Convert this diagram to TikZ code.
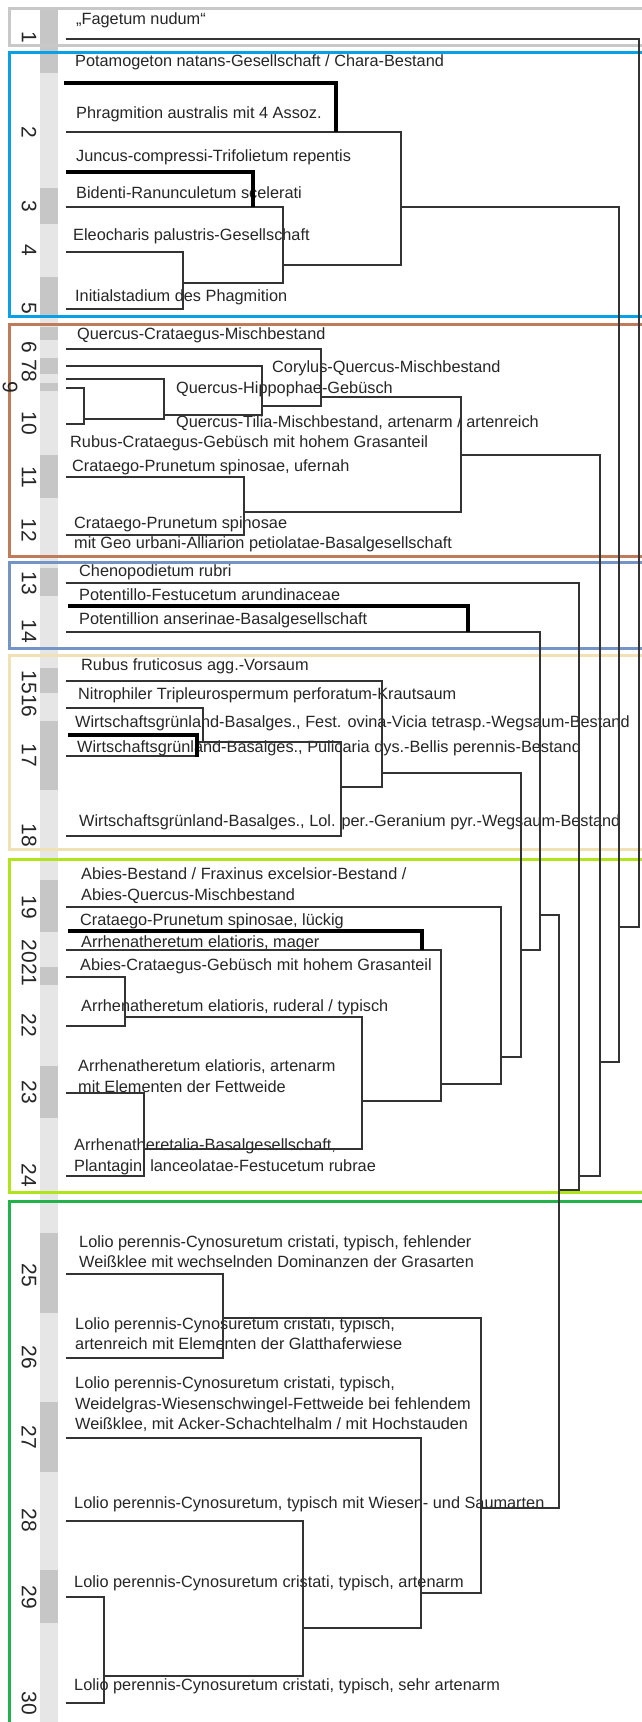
\documentclass[tikz,border=0pt]{standalone}
\usepackage{fontspec}
\setmainfont{Liberation Sans}
\newfontfamily\lblfont{Liberation Sans}
\definecolor{grpgray}{HTML}{C8C8C8}
\definecolor{grpblue}{HTML}{0AA0E6}
\definecolor{grpbrown}{HTML}{C07C58}
\definecolor{grpsteel}{HTML}{7494C6}
\definecolor{grpbeige}{HTML}{F0E2B4}
\definecolor{grplime}{HTML}{B2E41E}
\definecolor{grpgreen}{HTML}{22B24A}
\definecolor{bandlight}{HTML}{E6E6E6}
\definecolor{banddark}{HTML}{C6C6C6}
\tikzset{
  link/.style={draw=black!80, line width=1.3pt},
  boldlink/.style={draw=black, line width=3.6pt},
  lbl/.style={anchor=base west, inner sep=0pt, yshift=-5.5pt, text=black!85,
    font=\lblfont\fontsize{16.3}{18}\selectfont},
  num/.style={rotate=-90, inner sep=0pt, text=black!85, font=\fontsize{21}{22}\selectfont},
  grpbox/.style={line width=3pt},
}
\begin{document}
\begin{tikzpicture}[x=1pt, y=-1pt]
  \useasboundingbox[fill=white] (0,0) rectangle (642,1722);
  % relevee strip
  \fill[bandlight] (40,10) rectangle (58,1722);
  \foreach \ya/\yb in {10/73, 188/224, 277/315, 327/340, 358/374, 383/391, 455/498,
      568/596, 668/693, 721/790, 880/932, 967/985, 1066/1118, 1233/1313, 1402/1472, 1570/1623}
    \fill[banddark] (40,\ya) rectangle (58,\yb);
  % group frames
  \foreach \ya/\yb/\c in {8.5/45/grpgray, 52/316/grpblue, 324/556/grpbrown, 562/648/grpsteel,
      655/849/grpbeige, 859/1192/grplime, 1201/1730/grpgreen}
    \draw[grpbox, \c] (9.5,\ya) rectangle (660,\yb);
  % labels
  \node[lbl] (t1) at (76,19) {„Fagetum nudum“};
  \node[lbl] (t2) at (75,61) {Potamogeton natans-Gesellschaft / Chara-Bestand};
  \node[lbl] (t3) at (76,113) {Phragmition australis mit 4 Assoz.};
  \node[lbl] (t4) at (76,156) {Juncus-compressi-Trifolietum repentis};
  \node[lbl] (t5) at (76,193) {Bidenti-Ranunculetum scelerati};
  \node[lbl] (t6) at (73,235) {Eleocharis palustris-Gesellschaft};
  \node[lbl] (t7) at (75,296) {Initialstadium des Phagmition};
  \node[lbl] (t8) at (77,334) {Quercus-Crataegus-Mischbestand};
  \node[lbl] (t9) at (272,367) {Corylus-Quercus-Mischbestand};
  \node[lbl] (t10) at (176,388) {Quercus-Hippophae-Gebüsch};
  \node[lbl] (t11) at (176,422) {Quercus-Tilia-Mischbestand, artenarm / artenreich};
  \node[lbl] (t12) at (70,442) {Rubus-Crataegus-Gebüsch mit hohem Grasanteil};
  \node[lbl] (t13) at (72,466) {Crataego-Prunetum spinosae, ufernah};
  \node[lbl] (t14) at (74,523) {Crataego-Prunetum spinosae};
  \node[lbl] (t15) at (74,543) {mit Geo urbani-Alliarion petiolatae-Basalgesellschaft};
  \node[lbl] (t16) at (79,571) {Chenopodietum rubri};
  \node[lbl] (t17) at (79,595) {Potentillo-Festucetum arundinaceae};
  \node[lbl] (t18) at (79,619) {Potentillion anserinae-Basalgesellschaft};
  \node[lbl] (t19) at (81,665) {Rubus fruticosus agg.-Vorsaum};
  \node[lbl] (t20) at (78,694) {Nitrophiler Tripleurospermum perforatum-Krautsaum};
  \node[lbl] (t21) at (75,722) {Wirtschaftsgrünland-Basalges., Fest. ovina-Vicia tetrasp.-Wegsaum-Bestand};
  \node[lbl] (t22) at (77,747) {Wirtschaftsgrünland-Basalges., Pulicaria dys.-Bellis perennis-Bestand};
  \node[lbl] (t23) at (79,821) {Wirtschaftsgrünland-Basalges., Lol. per.-Geranium pyr.-Wegsaum-Bestand};
  \node[lbl] (t24) at (81,874) {Abies-Bestand / Fraxinus excelsior-Bestand /};
  \node[lbl] (t25) at (81,895) {Abies-Quercus-Mischbestand};
  \node[lbl] (t26) at (80,920) {Crataego-Prunetum spinosae, lückig};
  \node[lbl] (t27) at (81,942) {Arrhenatheretum elatioris, mager};
  \node[lbl] (t28) at (80,965) {Abies-Crataegus-Gebüsch mit hohem Grasanteil};
  \node[lbl] (t29) at (81,1006) {Arrhenatheretum elatioris, ruderal / typisch};
  \node[lbl] (t30) at (78,1066) {Arrhenatheretum elatioris, artenarm};
  \node[lbl] (t31) at (78,1087) {mit Elementen der Fettweide};
  \node[lbl] (t32) at (74,1145) {Arrhenatheretalia-Basalgesellschaft,};
  \node[lbl] (t33) at (74,1166) {Plantagini lanceolatae-Festucetum rubrae};
  \node[lbl] (t34) at (79,1242) {Lolio perennis-Cynosuretum cristati, typisch, fehlender};
  \node[lbl] (t35) at (79,1262) {Weißklee mit wechselnden Dominanzen der Grasarten};
  \node[lbl] (t36) at (75,1324) {Lolio perennis-Cynosuretum cristati, typisch,};
  \node[lbl] (t37) at (75,1344) {artenreich mit Elementen der Glatthaferwiese};
  \node[lbl] (t38) at (75,1383) {Lolio perennis-Cynosuretum cristati, typisch,};
  \node[lbl] (t39) at (75,1404) {Weidelgras-Wiesenschwingel-Fettweide bei fehlendem};
  \node[lbl] (t40) at (75,1424) {Weißklee, mit Acker-Schachtelhalm / mit Hochstauden};
  \node[lbl] (t41) at (74,1503) {Lolio perennis-Cynosuretum, typisch mit Wiesen- und Saumarten};
  \node[lbl] (t42) at (74,1582) {Lolio perennis-Cynosuretum cristati, typisch, artenarm};
  \node[lbl] (t43) at (74,1685) {Lolio perennis-Cynosuretum cristati, typisch, sehr artenarm};
  % cluster numbers
  \foreach \y/\n [count=\i] in {37/1, 132/2, 206/3, 250/4, 308/5, 362/6 78, 423/10, 477/11,
      530/12, 583/13, 631/14, 694/1516, 755/17, 835/18, 907/19, 963/2021, 1025/22, 1092/23,
      1175/24, 1275/25, 1357/26, 1437/27, 1520/28, 1597/29, 1703/30}
    \node[num] (num\i) at (29,\y) {\n};
  \node[num] (num9) at (10,387) {9};
  % leaves
  \foreach \y [count=\i] in {39, 132, 207, 252, 309, 349, 366, 379, 388, 424, 477, 535, 583, 632,
      681, 708, 756, 836, 907, 950, 977, 1026, 1093, 1176, 1274, 1358, 1438, 1521, 1597, 1703}
    \coordinate (lf\i) at (66,\y);
  \coordinate (e17) at (197,742);
  \draw[link] (lf17) -- (lf17 -| e17);
  % merges, children before parents
  \foreach \m/\x/\y/\a/\b in {b45/183/283/lf4/lf5, b35/283/265/lf3/b45, b25/401/207/lf2/b35,
      r910/84/419/lf9/lf10, r810/164/415/lf8/r910, r710/262/406/lf7/r810, r610/321/397/lf6/r710,
      r1112/244/512/lf11/lf12, r612/461/455/r610/r1112,
      e16/203/742/lf16/e17, e1618/341/787/e16/lf18, e1518/382/773/lf15/e1618,
      g2122/125/1017/lf21/lf22, g2324/144/1149/lf23/lf24, g2124/362/1101/g2122/g2324,
      g2024/441/1084/lf20/g2124, g1924/501/1057/lf19/g2024,
      n2526/223/1318/lf25/lf26, n2930/104/1676/lf29/lf30, n2830/303/1628/lf28/n2930,
      n2730/421/1593/lf27/n2830, n2530/481/1508/n2526/n2730,
      u1/521/950/e1518/g1924, u2/540/915/lf14/u1, u3/559/1190/u2/n2530, u4/579/1176/lf13/u3,
      u5/600/1062/r612/u4, u6/619/927/b25/u5, root/639/927/lf1/u6}{
    \coordinate (\m) at (\x,\y);
    \draw[link] (\a) -| (\m) |- (\b);
  }
  % bold links
  \foreach \xa/\ya/\xb/\yb [count=\i] in {64/83/336/132, 66/172/253/207, 68/606/468/632,
      68/735/197/757, 68/931/422/950}{
    \coordinate (k\i) at (\xa,\ya);
    \coordinate (k\i e) at (\xb,\yb);
    \draw[boldlink] (k\i) -| (k\i e);
  }
\end{tikzpicture}
\end{document}
